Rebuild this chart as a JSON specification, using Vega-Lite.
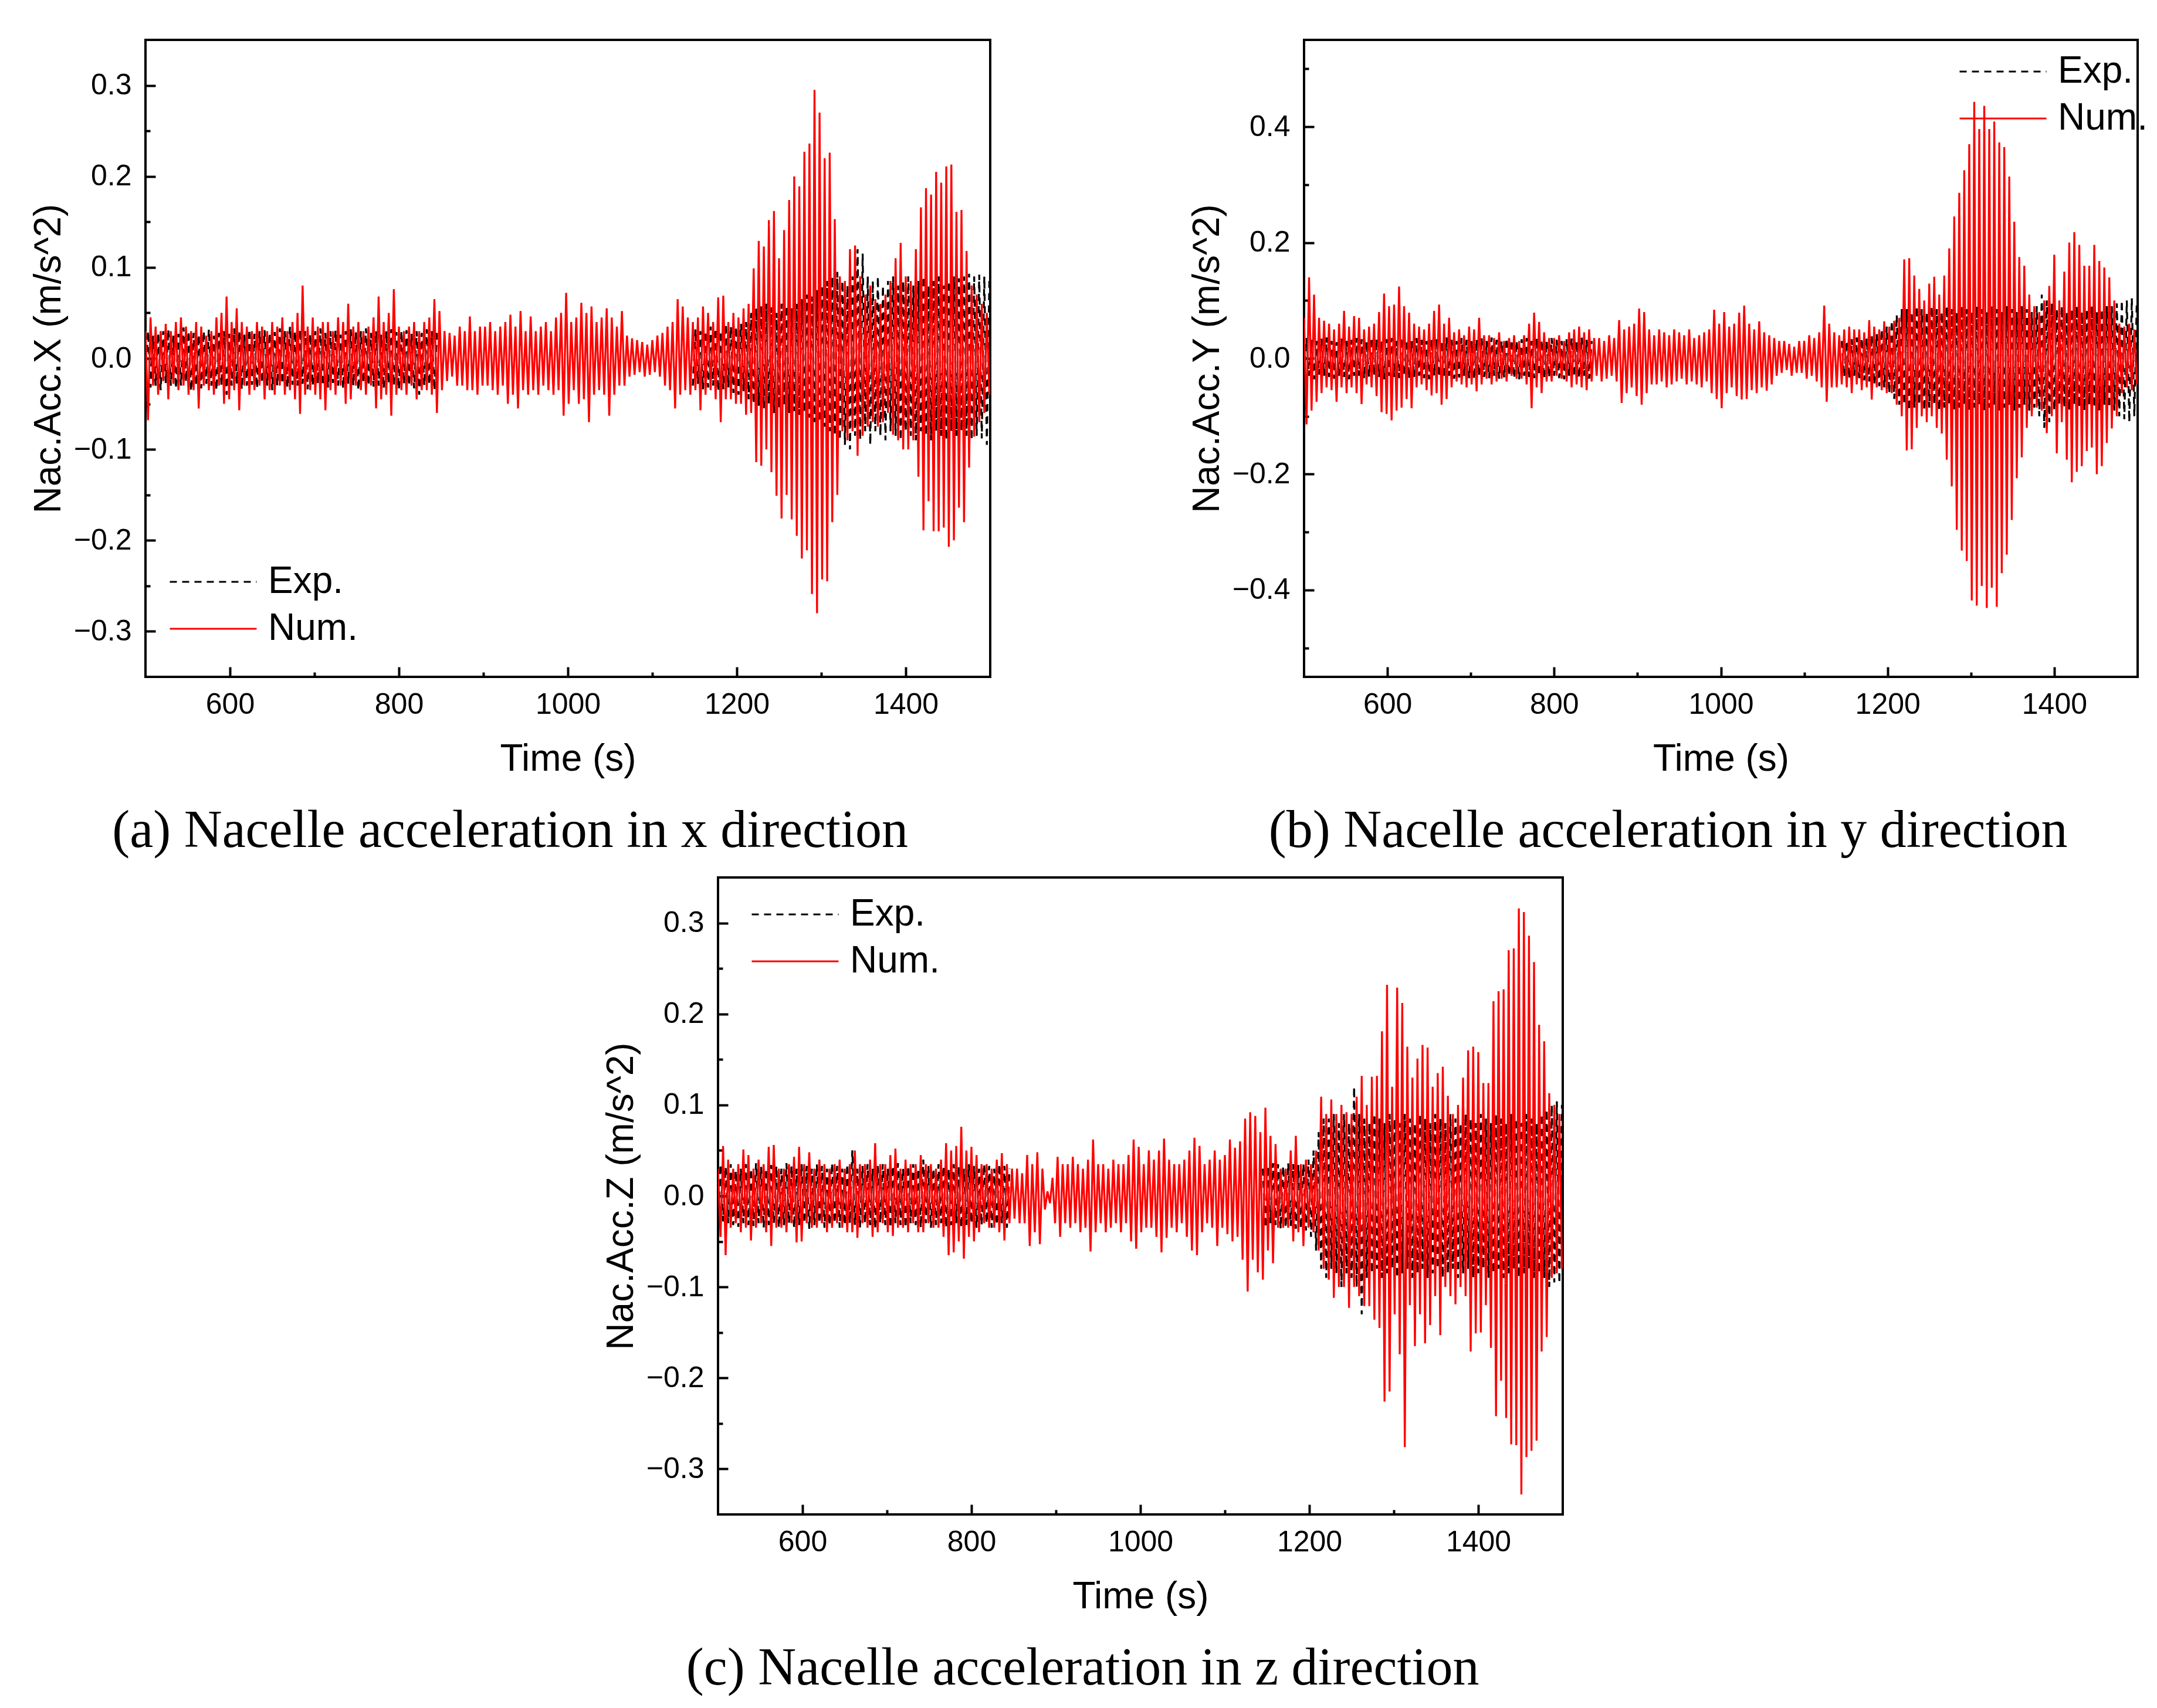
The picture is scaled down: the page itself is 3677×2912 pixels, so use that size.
{
  "$schema": "https://vega.github.io/schema/vega-lite/v6.json",
  "background": "white",
  "padding": {"left": 49, "top": 66, "right": 0, "bottom": 0},
  "config": {
    "view": {"stroke": "#000000", "strokeWidth": 4},
    "axis": {
      "domain": false,
      "grid": false,
      "labelFont": "Liberation Sans",
      "labelFontSize": 50,
      "labelColor": "#000000",
      "titleFont": "Liberation Sans",
      "titleFontSize": 64,
      "titleFontWeight": "normal",
      "titleColor": "#000000",
      "tickColor": "#000000",
      "tickWidth": 4,
      "labelOverlap": false,
      "labelFlush": false
    },
    "legend": {
      "title": null,
      "orient": "none",
      "symbolType": "stroke",
      "symbolSize": 21904,
      "symbolStrokeWidth": 3,
      "labelFont": "Liberation Sans",
      "labelFontSize": 64,
      "labelColor": "#000000",
      "labelOffset": 18,
      "labelLimit": 400,
      "clipHeight": 80,
      "rowPadding": 0,
      "padding": 0
    }
  },
  "datasets": {
    "ax": [
      {"t":500,"e":-0.02,"n":0.03},{"t":503,"e":0.03,"n":-0.068},{"t":506,"e":-0.032,"n":0.045},{"t":509,"e":0.025,"n":-0.03},{"t":512,"e":-0.03,"n":0.035},{"t":515,"e":0.028,"n":-0.04},{"t":518,"e":-0.035,"n":0.03},{"t":521,"e":0.03,"n":-0.025},{"t":524,"e":-0.027,"n":0.038},{"t":527,"e":0.032,"n":-0.045},
      {"t":530,"e":-0.03,"n":0.03},{"t":533,"e":0.025,"n":-0.028},{"t":536,"e":-0.033,"n":0.04},{"t":539,"e":0.027,"n":-0.035},{"t":542,"e":-0.03,"n":0.045},{"t":545,"e":0.034,"n":-0.03},{"t":548,"e":-0.026,"n":0.035},{"t":551,"e":0.03,"n":-0.04},{"t":554,"e":-0.036,"n":0.03},{"t":557,"e":0.028,"n":-0.035},
      {"t":560,"e":-0.03,"n":0.04},{"t":563,"e":0.026,"n":-0.055},{"t":566,"e":-0.033,"n":0.035},{"t":569,"e":0.03,"n":-0.03},{"t":572,"e":-0.028,"n":0.025},{"t":575,"e":0.032,"n":-0.035},{"t":578,"e":-0.03,"n":0.03},{"t":581,"e":0.025,"n":-0.04},{"t":584,"e":-0.035,"n":0.045},{"t":587,"e":0.028,"n":-0.03},
      {"t":590,"e":-0.03,"n":0.05},{"t":593,"e":0.03,"n":-0.05},{"t":596,"e":-0.04,"n":0.068},{"t":599,"e":0.027,"n":-0.045},{"t":602,"e":-0.03,"n":0.04},{"t":605,"e":0.033,"n":-0.035},{"t":608,"e":-0.028,"n":0.055},{"t":611,"e":0.03,"n":-0.057},{"t":614,"e":-0.034,"n":0.04},{"t":617,"e":0.026,"n":-0.03},
      {"t":620,"e":-0.03,"n":0.035},{"t":623,"e":0.032,"n":-0.04},{"t":626,"e":-0.029,"n":0.03},{"t":629,"e":0.027,"n":-0.035},{"t":632,"e":-0.033,"n":0.04},{"t":635,"e":0.03,"n":-0.03},{"t":638,"e":-0.027,"n":0.035},{"t":641,"e":0.031,"n":-0.045},{"t":644,"e":-0.03,"n":0.03},{"t":647,"e":0.028,"n":-0.035},
      {"t":650,"e":-0.035,"n":0.04},{"t":653,"e":0.029,"n":-0.04},{"t":656,"e":-0.03,"n":0.035},{"t":659,"e":0.033,"n":-0.03},{"t":662,"e":-0.028,"n":0.045},{"t":665,"e":0.03,"n":-0.04},{"t":668,"e":-0.032,"n":0.03},{"t":671,"e":0.035,"n":-0.035},{"t":674,"e":-0.029,"n":0.04},{"t":677,"e":0.03,"n":-0.045},
      {"t":680,"e":-0.03,"n":0.05},{"t":683,"e":0.032,"n":-0.061},{"t":686,"e":-0.028,"n":0.08},{"t":689,"e":0.03,"n":-0.04},{"t":692,"e":-0.034,"n":0.035},{"t":695,"e":0.027,"n":-0.035},{"t":698,"e":-0.03,"n":0.045},{"t":701,"e":0.03,"n":-0.04},{"t":704,"e":-0.028,"n":0.035},{"t":707,"e":0.033,"n":-0.045},
      {"t":710,"e":-0.03,"n":0.04},{"t":713,"e":0.028,"n":-0.057},{"t":716,"e":-0.032,"n":0.04},{"t":719,"e":0.03,"n":-0.035},{"t":722,"e":-0.027,"n":0.03},{"t":725,"e":0.031,"n":-0.04},{"t":728,"e":-0.03,"n":0.045},{"t":731,"e":0.026,"n":-0.03},{"t":734,"e":-0.033,"n":0.04},{"t":737,"e":0.03,"n":-0.05},
      {"t":740,"e":-0.028,"n":0.06},{"t":743,"e":0.032,"n":-0.045},{"t":746,"e":-0.03,"n":0.035},{"t":749,"e":0.029,"n":-0.03},{"t":752,"e":-0.035,"n":0.04},{"t":755,"e":0.03,"n":-0.035},{"t":758,"e":-0.027,"n":0.03},{"t":761,"e":0.033,"n":-0.04},{"t":764,"e":-0.03,"n":0.035},{"t":767,"e":0.028,"n":-0.03},
      {"t":770,"e":-0.031,"n":0.045},{"t":773,"e":0.03,"n":-0.055},{"t":776,"e":-0.03,"n":0.068},{"t":779,"e":0.026,"n":-0.045},{"t":782,"e":-0.033,"n":0.04},{"t":785,"e":0.03,"n":-0.04},{"t":788,"e":-0.028,"n":0.05},{"t":791,"e":0.032,"n":-0.063},{"t":794,"e":-0.03,"n":0.076},{"t":797,"e":0.029,"n":-0.04},
      {"t":800,"e":-0.034,"n":0.035},{"t":803,"e":0.03,"n":-0.035},{"t":806,"e":-0.028,"n":0.03},{"t":809,"e":0.031,"n":-0.04},{"t":812,"e":-0.03,"n":0.035},{"t":815,"e":0.027,"n":-0.03},{"t":818,"e":-0.033,"n":0.04},{"t":821,"e":0.03,"n":-0.045},{"t":824,"e":-0.04,"n":0.03},{"t":827,"e":0.028,"n":-0.035},
      {"t":830,"e":-0.03,"n":0.04},{"t":833,"e":0.032,"n":-0.035},{"t":836,"e":-0.029,"n":0.045},{"t":839,"e":0.03,"n":-0.04},{"t":842,"e":-0.035,"n":0.065},{"t":845,"e":0.028,"n":-0.06},{"t":848,"e":null,"n":0.052},{"t":851,"e":null,"n":-0.035},{"t":854,"e":null,"n":0.03},{"t":857,"e":null,"n":-0.025},
      {"t":860,"e":null,"n":0.028},{"t":863,"e":null,"n":-0.02},{"t":866,"e":null,"n":0.025},{"t":869,"e":null,"n":-0.03},{"t":872,"e":null,"n":0.035},{"t":875,"e":null,"n":-0.03},{"t":878,"e":null,"n":0.03},{"t":881,"e":null,"n":-0.035},{"t":884,"e":null,"n":0.046},{"t":887,"e":null,"n":-0.035},
      {"t":890,"e":null,"n":0.03},{"t":893,"e":null,"n":-0.04},{"t":896,"e":null,"n":0.035},{"t":899,"e":null,"n":-0.03},{"t":902,"e":null,"n":0.035},{"t":905,"e":null,"n":-0.03},{"t":908,"e":null,"n":0.04},{"t":911,"e":null,"n":-0.035},{"t":914,"e":null,"n":0.03},{"t":917,"e":null,"n":-0.04},
      {"t":920,"e":null,"n":0.035},{"t":923,"e":null,"n":-0.03},{"t":926,"e":null,"n":0.04},{"t":929,"e":null,"n":-0.05},{"t":932,"e":null,"n":0.048},{"t":935,"e":null,"n":-0.04},{"t":938,"e":null,"n":0.035},{"t":941,"e":null,"n":-0.055},{"t":944,"e":null,"n":0.052},{"t":947,"e":null,"n":-0.035},
      {"t":950,"e":null,"n":0.03},{"t":953,"e":null,"n":-0.04},{"t":956,"e":null,"n":0.046},{"t":959,"e":null,"n":-0.035},{"t":962,"e":null,"n":0.03},{"t":965,"e":null,"n":-0.04},{"t":968,"e":null,"n":0.035},{"t":971,"e":null,"n":-0.03},{"t":974,"e":null,"n":0.04},{"t":977,"e":null,"n":-0.035},
      {"t":980,"e":null,"n":0.03},{"t":983,"e":null,"n":-0.04},{"t":986,"e":null,"n":0.045},{"t":989,"e":null,"n":-0.035},{"t":992,"e":null,"n":0.05},{"t":995,"e":null,"n":-0.063},{"t":998,"e":null,"n":0.072},{"t":1001,"e":null,"n":-0.05},{"t":1004,"e":null,"n":0.04},{"t":1007,"e":null,"n":-0.035},
      {"t":1010,"e":null,"n":0.045},{"t":1013,"e":null,"n":-0.05},{"t":1016,"e":null,"n":0.061},{"t":1019,"e":null,"n":-0.045},{"t":1022,"e":null,"n":0.05},{"t":1025,"e":null,"n":-0.07},{"t":1028,"e":null,"n":0.057},{"t":1031,"e":null,"n":-0.04},{"t":1034,"e":null,"n":0.04},{"t":1037,"e":null,"n":-0.035},
      {"t":1040,"e":null,"n":0.045},{"t":1043,"e":null,"n":-0.04},{"t":1046,"e":null,"n":0.055},{"t":1049,"e":null,"n":-0.063},{"t":1052,"e":null,"n":0.045},{"t":1055,"e":null,"n":-0.04},{"t":1058,"e":null,"n":0.035},{"t":1061,"e":null,"n":-0.03},{"t":1064,"e":null,"n":0.052},{"t":1067,"e":null,"n":-0.03},
      {"t":1070,"e":null,"n":0.025},{"t":1073,"e":null,"n":-0.02},{"t":1076,"e":null,"n":0.022},{"t":1079,"e":null,"n":-0.018},{"t":1082,"e":null,"n":0.02},{"t":1085,"e":null,"n":-0.015},{"t":1088,"e":null,"n":0.018},{"t":1091,"e":null,"n":-0.02},{"t":1094,"e":null,"n":0.015},{"t":1097,"e":null,"n":-0.018},
      {"t":1100,"e":null,"n":0.02},{"t":1103,"e":null,"n":-0.015},{"t":1106,"e":null,"n":0.025},{"t":1109,"e":null,"n":-0.02},{"t":1112,"e":null,"n":0.028},{"t":1115,"e":null,"n":-0.03},{"t":1118,"e":null,"n":0.035},{"t":1121,"e":null,"n":-0.035},{"t":1124,"e":null,"n":0.04},{"t":1127,"e":null,"n":-0.055},
      {"t":1130,"e":null,"n":0.065},{"t":1133,"e":null,"n":-0.04},{"t":1136,"e":null,"n":0.057},{"t":1139,"e":null,"n":-0.035},{"t":1142,"e":null,"n":0.045},{"t":1145,"e":null,"n":-0.04},{"t":1148,"e":-0.03,"n":0.04},{"t":1151,"e":0.032,"n":-0.035},{"t":1154,"e":-0.028,"n":0.045},{"t":1157,"e":0.03,"n":-0.057},
      {"t":1160,"e":-0.034,"n":0.057},{"t":1163,"e":0.03,"n":-0.04},{"t":1166,"e":-0.032,"n":0.05},{"t":1169,"e":0.035,"n":-0.035},{"t":1172,"e":-0.03,"n":0.04},{"t":1175,"e":0.033,"n":-0.045},{"t":1178,"e":-0.036,"n":0.067},{"t":1181,"e":0.03,"n":-0.07},{"t":1184,"e":-0.034,"n":0.069},{"t":1187,"e":0.038,"n":-0.045},
      {"t":1190,"e":-0.032,"n":0.04},{"t":1193,"e":0.035,"n":-0.045},{"t":1196,"e":-0.038,"n":0.05},{"t":1199,"e":0.035,"n":-0.05},{"t":1202,"e":-0.04,"n":0.045},{"t":1205,"e":0.038,"n":-0.05},{"t":1208,"e":-0.036,"n":0.055},{"t":1211,"e":0.04,"n":-0.062},{"t":1214,"e":-0.045,"n":0.06},{"t":1217,"e":0.05,"n":-0.06},
      {"t":1220,"e":-0.05,"n":0.099},{"t":1223,"e":0.055,"n":-0.114},{"t":1226,"e":-0.052,"n":0.129},{"t":1229,"e":0.058,"n":-0.118},{"t":1232,"e":-0.055,"n":0.123},{"t":1235,"e":0.06,"n":-0.1},{"t":1238,"e":-0.05,"n":0.152},{"t":1241,"e":0.056,"n":-0.125},{"t":1244,"e":-0.06,"n":0.162},{"t":1247,"e":0.05,"n":-0.151},
      {"t":1250,"e":-0.055,"n":0.11},{"t":1253,"e":0.06,"n":-0.176},{"t":1256,"e":-0.052,"n":0.141},{"t":1259,"e":0.058,"n":-0.15},{"t":1262,"e":-0.06,"n":0.174},{"t":1265,"e":0.055,"n":-0.177},{"t":1268,"e":-0.058,"n":0.2},{"t":1271,"e":0.06,"n":-0.195},{"t":1274,"e":-0.062,"n":0.189},{"t":1277,"e":0.065,"n":-0.22},
      {"t":1280,"e":-0.06,"n":0.227},{"t":1283,"e":0.07,"n":-0.211},{"t":1286,"e":-0.065,"n":0.236},{"t":1289,"e":0.068,"n":-0.259},{"t":1292,"e":-0.07,"n":0.295},{"t":1295,"e":0.075,"n":-0.28},{"t":1298,"e":-0.07,"n":0.27},{"t":1301,"e":0.08,"n":-0.243},{"t":1304,"e":-0.075,"n":0.22},{"t":1307,"e":0.085,"n":-0.245},
      {"t":1310,"e":-0.08,"n":0.226},{"t":1313,"e":0.09,"n":-0.18},{"t":1316,"e":-0.085,"n":0.153},{"t":1319,"e":0.095,"n":-0.15},{"t":1322,"e":-0.09,"n":0.09},{"t":1325,"e":0.085,"n":-0.08},{"t":1328,"e":-0.095,"n":0.085},{"t":1331,"e":0.08,"n":-0.09},{"t":1334,"e":-0.1,"n":0.12},{"t":1337,"e":0.09,"n":-0.08},
      {"t":1340,"e":-0.085,"n":0.124},{"t":1343,"e":0.12,"n":-0.107},{"t":1346,"e":-0.09,"n":0.09},{"t":1349,"e":0.115,"n":-0.085},{"t":1352,"e":-0.08,"n":0.07},{"t":1355,"e":0.09,"n":-0.075},{"t":1358,"e":-0.095,"n":0.08},{"t":1361,"e":0.085,"n":-0.07},{"t":1364,"e":-0.08,"n":0.065},{"t":1367,"e":0.09,"n":-0.075},
      {"t":1370,"e":-0.085,"n":0.06},{"t":1373,"e":0.08,"n":-0.07},{"t":1376,"e":-0.09,"n":0.07},{"t":1379,"e":0.085,"n":-0.06},{"t":1382,"e":-0.08,"n":0.085},{"t":1385,"e":0.09,"n":-0.084},{"t":1388,"e":-0.085,"n":0.11},{"t":1391,"e":0.08,"n":-0.09},{"t":1394,"e":-0.09,"n":0.127},{"t":1397,"e":0.085,"n":-0.1},
      {"t":1400,"e":-0.08,"n":0.09},{"t":1403,"e":0.09,"n":-0.1},{"t":1406,"e":-0.085,"n":0.085},{"t":1409,"e":0.08,"n":-0.09},{"t":1412,"e":-0.09,"n":0.12},{"t":1415,"e":0.085,"n":-0.13},{"t":1418,"e":-0.08,"n":0.166},{"t":1421,"e":0.09,"n":-0.189},{"t":1424,"e":-0.085,"n":0.187},{"t":1427,"e":0.08,"n":-0.157},
      {"t":1430,"e":-0.09,"n":0.18},{"t":1433,"e":0.085,"n":-0.19},{"t":1436,"e":-0.08,"n":0.205},{"t":1439,"e":0.09,"n":-0.19},{"t":1442,"e":-0.085,"n":0.193},{"t":1445,"e":0.08,"n":-0.186},{"t":1448,"e":-0.09,"n":0.211},{"t":1451,"e":0.085,"n":-0.207},{"t":1454,"e":-0.08,"n":0.213},{"t":1457,"e":0.09,"n":-0.2},
      {"t":1460,"e":-0.085,"n":0.161},{"t":1463,"e":0.088,"n":-0.164},{"t":1466,"e":-0.08,"n":0.163},{"t":1469,"e":0.09,"n":-0.18},{"t":1472,"e":-0.085,"n":0.118},{"t":1475,"e":0.093,"n":-0.12},{"t":1478,"e":-0.09,"n":0.08},{"t":1481,"e":0.09,"n":-0.086},{"t":1484,"e":-0.085,"n":0.07},{"t":1487,"e":0.092,"n":-0.07},
      {"t":1490,"e":-0.088,"n":0.06},{"t":1493,"e":0.09,"n":-0.06},{"t":1496,"e":-0.095,"n":0.05},{"t":1499,"e":0.085,"n":-0.04}
    ],
    "ay": [
      {"t":500,"e":-0.03,"n":0.07},{"t":503,"e":0.035,"n":-0.114},{"t":506,"e":-0.03,"n":0.14},{"t":509,"e":0.032,"n":-0.09},{"t":512,"e":-0.036,"n":0.11},{"t":515,"e":0.03,"n":-0.075},{"t":518,"e":-0.028,"n":0.07},{"t":521,"e":0.034,"n":-0.06},{"t":524,"e":-0.03,"n":0.065},{"t":527,"e":0.036,"n":-0.05},
      {"t":530,"e":-0.032,"n":0.06},{"t":533,"e":0.03,"n":-0.055},{"t":536,"e":-0.035,"n":0.05},{"t":539,"e":0.028,"n":-0.075},{"t":542,"e":-0.03,"n":0.06},{"t":545,"e":0.034,"n":-0.05},{"t":548,"e":-0.032,"n":0.082},{"t":551,"e":0.03,"n":-0.06},{"t":554,"e":-0.036,"n":0.055},{"t":557,"e":0.032,"n":-0.05},
      {"t":560,"e":-0.03,"n":0.073},{"t":563,"e":0.035,"n":-0.06},{"t":566,"e":-0.03,"n":0.07},{"t":569,"e":0.033,"n":-0.079},{"t":572,"e":-0.035,"n":0.05},{"t":575,"e":0.03,"n":-0.045},{"t":578,"e":-0.032,"n":0.055},{"t":581,"e":0.036,"n":-0.05},{"t":584,"e":-0.03,"n":0.06},{"t":587,"e":0.034,"n":-0.065},
      {"t":590,"e":-0.032,"n":0.08},{"t":593,"e":0.03,"n":-0.093},{"t":596,"e":-0.036,"n":0.112},{"t":599,"e":0.033,"n":-0.096},{"t":602,"e":-0.03,"n":0.09},{"t":605,"e":0.035,"n":-0.107},{"t":608,"e":-0.032,"n":0.093},{"t":611,"e":0.03,"n":-0.09},{"t":614,"e":-0.034,"n":0.124},{"t":617,"e":0.036,"n":-0.085},
      {"t":620,"e":-0.03,"n":0.09},{"t":623,"e":0.032,"n":-0.07},{"t":626,"e":-0.035,"n":0.079},{"t":629,"e":0.03,"n":-0.086},{"t":632,"e":-0.033,"n":0.06},{"t":635,"e":0.035,"n":-0.05},{"t":638,"e":-0.03,"n":0.055},{"t":641,"e":0.032,"n":-0.045},{"t":644,"e":-0.034,"n":0.05},{"t":647,"e":0.03,"n":-0.055},
      {"t":650,"e":-0.036,"n":0.06},{"t":653,"e":0.033,"n":-0.064},{"t":656,"e":-0.03,"n":0.082},{"t":659,"e":0.035,"n":-0.06},{"t":662,"e":-0.032,"n":0.093},{"t":665,"e":0.03,"n":-0.08},{"t":668,"e":-0.034,"n":0.06},{"t":671,"e":0.036,"n":-0.07},{"t":674,"e":-0.03,"n":0.07},{"t":677,"e":0.032,"n":-0.05},
      {"t":680,"e":-0.035,"n":0.045},{"t":683,"e":0.03,"n":-0.04},{"t":686,"e":-0.033,"n":0.05},{"t":689,"e":0.035,"n":-0.045},{"t":692,"e":-0.03,"n":0.04},{"t":695,"e":0.032,"n":-0.05},{"t":698,"e":-0.034,"n":0.055},{"t":701,"e":0.03,"n":-0.045},{"t":704,"e":-0.036,"n":0.05},{"t":707,"e":0.033,"n":-0.057},
      {"t":710,"e":-0.03,"n":0.07},{"t":713,"e":0.035,"n":-0.045},{"t":716,"e":-0.032,"n":0.04},{"t":719,"e":0.03,"n":-0.035},{"t":722,"e":-0.034,"n":0.04},{"t":725,"e":0.036,"n":-0.045},{"t":728,"e":-0.03,"n":0.035},{"t":731,"e":0.032,"n":-0.04},{"t":734,"e":-0.035,"n":0.045},{"t":737,"e":0.03,"n":-0.035},
      {"t":740,"e":-0.033,"n":0.03},{"t":743,"e":0.035,"n":-0.04},{"t":746,"e":-0.03,"n":0.035},{"t":749,"e":0.032,"n":-0.03},{"t":752,"e":-0.034,"n":0.04},{"t":755,"e":0.03,"n":-0.035},{"t":758,"e":-0.036,"n":0.03},{"t":761,"e":0.033,"n":-0.035},{"t":764,"e":-0.03,"n":0.04},{"t":767,"e":0.035,"n":-0.045},
      {"t":770,"e":-0.032,"n":0.06},{"t":773,"e":0.03,"n":-0.086},{"t":776,"e":-0.034,"n":0.079},{"t":779,"e":0.036,"n":-0.05},{"t":782,"e":-0.03,"n":0.063},{"t":785,"e":0.032,"n":-0.06},{"t":788,"e":-0.035,"n":0.045},{"t":791,"e":0.03,"n":-0.04},{"t":794,"e":-0.033,"n":0.035},{"t":797,"e":0.035,"n":-0.04},
      {"t":800,"e":-0.03,"n":0.035},{"t":803,"e":0.032,"n":-0.03},{"t":806,"e":-0.034,"n":0.04},{"t":809,"e":0.03,"n":-0.035},{"t":812,"e":-0.036,"n":0.03},{"t":815,"e":0.033,"n":-0.04},{"t":818,"e":-0.03,"n":0.045},{"t":821,"e":0.035,"n":-0.05},{"t":824,"e":-0.032,"n":0.05},{"t":827,"e":0.03,"n":-0.045},
      {"t":830,"e":-0.034,"n":0.055},{"t":833,"e":0.036,"n":-0.05},{"t":836,"e":-0.03,"n":0.045},{"t":839,"e":0.032,"n":-0.055},{"t":842,"e":-0.035,"n":0.05},{"t":845,"e":0.03,"n":-0.04},{"t":848,"e":null,"n":0.035},{"t":851,"e":null,"n":-0.03},{"t":854,"e":null,"n":0.035},{"t":857,"e":null,"n":-0.04},
      {"t":860,"e":null,"n":0.03},{"t":863,"e":null,"n":-0.035},{"t":866,"e":null,"n":0.04},{"t":869,"e":null,"n":-0.03},{"t":872,"e":null,"n":0.035},{"t":875,"e":null,"n":-0.04},{"t":878,"e":null,"n":0.066},{"t":881,"e":null,"n":-0.077},{"t":884,"e":null,"n":0.05},{"t":887,"e":null,"n":-0.06},
      {"t":890,"e":null,"n":0.055},{"t":893,"e":null,"n":-0.05},{"t":896,"e":null,"n":0.06},{"t":899,"e":null,"n":-0.065},{"t":902,"e":null,"n":0.086},{"t":905,"e":null,"n":-0.08},{"t":908,"e":null,"n":0.08},{"t":911,"e":null,"n":-0.06},{"t":914,"e":null,"n":0.05},{"t":917,"e":null,"n":-0.045},
      {"t":920,"e":null,"n":0.04},{"t":923,"e":null,"n":-0.045},{"t":926,"e":null,"n":0.05},{"t":929,"e":null,"n":-0.04},{"t":932,"e":null,"n":0.045},{"t":935,"e":null,"n":-0.05},{"t":938,"e":null,"n":0.04},{"t":941,"e":null,"n":-0.045},{"t":944,"e":null,"n":0.05},{"t":947,"e":null,"n":-0.04},
      {"t":950,"e":null,"n":0.045},{"t":953,"e":null,"n":-0.035},{"t":956,"e":null,"n":0.04},{"t":959,"e":null,"n":-0.045},{"t":962,"e":null,"n":0.05},{"t":965,"e":null,"n":-0.04},{"t":968,"e":null,"n":0.035},{"t":971,"e":null,"n":-0.045},{"t":974,"e":null,"n":0.04},{"t":977,"e":null,"n":-0.05},
      {"t":980,"e":null,"n":0.045},{"t":983,"e":null,"n":-0.04},{"t":986,"e":null,"n":0.05},{"t":989,"e":null,"n":-0.06},{"t":992,"e":null,"n":0.084},{"t":995,"e":null,"n":-0.07},{"t":998,"e":null,"n":0.06},{"t":1001,"e":null,"n":-0.086},{"t":1004,"e":null,"n":0.08},{"t":1007,"e":null,"n":-0.06},
      {"t":1010,"e":null,"n":0.055},{"t":1013,"e":null,"n":-0.05},{"t":1016,"e":null,"n":0.06},{"t":1019,"e":null,"n":-0.065},{"t":1022,"e":null,"n":0.079},{"t":1025,"e":null,"n":-0.071},{"t":1028,"e":null,"n":0.091},{"t":1031,"e":null,"n":-0.07},{"t":1034,"e":null,"n":0.06},{"t":1037,"e":null,"n":-0.055},
      {"t":1040,"e":null,"n":0.05},{"t":1043,"e":null,"n":-0.06},{"t":1046,"e":null,"n":0.064},{"t":1049,"e":null,"n":-0.05},{"t":1052,"e":null,"n":0.045},{"t":1055,"e":null,"n":-0.056},{"t":1058,"e":null,"n":0.04},{"t":1061,"e":null,"n":-0.045},{"t":1064,"e":null,"n":0.035},{"t":1067,"e":null,"n":-0.03},
      {"t":1070,"e":null,"n":0.03},{"t":1073,"e":null,"n":-0.025},{"t":1076,"e":null,"n":0.03},{"t":1079,"e":null,"n":-0.02},{"t":1082,"e":null,"n":0.025},{"t":1085,"e":null,"n":-0.03},{"t":1088,"e":null,"n":0.02},{"t":1091,"e":null,"n":-0.025},{"t":1094,"e":null,"n":0.03},{"t":1097,"e":null,"n":-0.025},
      {"t":1100,"e":null,"n":0.03},{"t":1103,"e":null,"n":-0.035},{"t":1106,"e":null,"n":0.04},{"t":1109,"e":null,"n":-0.03},{"t":1112,"e":null,"n":0.035},{"t":1115,"e":null,"n":-0.04},{"t":1118,"e":null,"n":0.045},{"t":1121,"e":null,"n":-0.05},{"t":1124,"e":null,"n":0.091},{"t":1127,"e":null,"n":-0.075},
      {"t":1130,"e":null,"n":0.06},{"t":1133,"e":null,"n":-0.05},{"t":1136,"e":null,"n":0.045},{"t":1139,"e":null,"n":-0.05},{"t":1142,"e":null,"n":0.04},{"t":1145,"e":0.03,"n":-0.045},{"t":1148,"e":-0.032,"n":0.05},{"t":1151,"e":0.03,"n":-0.05},{"t":1154,"e":-0.035,"n":0.055},{"t":1157,"e":0.033,"n":-0.06},
      {"t":1160,"e":-0.03,"n":0.05},{"t":1163,"e":0.036,"n":-0.045},{"t":1166,"e":-0.034,"n":0.05},{"t":1169,"e":0.035,"n":-0.055},{"t":1172,"e":-0.038,"n":0.045},{"t":1175,"e":0.035,"n":-0.05},{"t":1178,"e":-0.04,"n":0.066},{"t":1181,"e":0.04,"n":-0.071},{"t":1184,"e":-0.045,"n":0.055},{"t":1187,"e":0.042,"n":-0.05},
      {"t":1190,"e":-0.048,"n":0.05},{"t":1193,"e":0.05,"n":-0.055},{"t":1196,"e":-0.05,"n":0.064},{"t":1199,"e":0.055,"n":-0.06},{"t":1202,"e":-0.06,"n":0.055},{"t":1205,"e":0.065,"n":-0.06},{"t":1208,"e":-0.07,"n":0.065},{"t":1211,"e":0.075,"n":-0.08},{"t":1214,"e":-0.08,"n":0.07},{"t":1217,"e":0.085,"n":-0.1},
      {"t":1220,"e":-0.08,"n":0.171},{"t":1223,"e":0.085,"n":-0.159},{"t":1226,"e":-0.09,"n":0.173},{"t":1229,"e":0.08,"n":-0.157},{"t":1232,"e":-0.085,"n":0.143},{"t":1235,"e":0.09,"n":-0.12},{"t":1238,"e":-0.08,"n":0.12},{"t":1241,"e":0.085,"n":-0.1},{"t":1244,"e":-0.09,"n":0.1},{"t":1247,"e":0.08,"n":-0.11},
      {"t":1250,"e":-0.085,"n":0.129},{"t":1253,"e":0.09,"n":-0.1},{"t":1256,"e":-0.08,"n":0.141},{"t":1259,"e":0.085,"n":-0.12},{"t":1262,"e":-0.09,"n":0.11},{"t":1265,"e":0.08,"n":-0.13},{"t":1268,"e":-0.085,"n":0.143},{"t":1271,"e":0.09,"n":-0.175},{"t":1274,"e":-0.08,"n":0.19},{"t":1277,"e":0.085,"n":-0.221},
      {"t":1280,"e":-0.09,"n":0.245},{"t":1283,"e":0.08,"n":-0.296},{"t":1286,"e":-0.085,"n":0.286},{"t":1289,"e":0.09,"n":-0.332},{"t":1292,"e":-0.08,"n":0.325},{"t":1295,"e":0.085,"n":-0.35},{"t":1298,"e":-0.09,"n":0.37},{"t":1301,"e":0.08,"n":-0.418},{"t":1304,"e":-0.085,"n":0.443},{"t":1307,"e":0.09,"n":-0.427},
      {"t":1310,"e":-0.08,"n":0.396},{"t":1313,"e":0.085,"n":-0.393},{"t":1316,"e":-0.09,"n":0.436},{"t":1319,"e":0.08,"n":-0.431},{"t":1322,"e":-0.085,"n":0.396},{"t":1325,"e":0.09,"n":-0.396},{"t":1328,"e":-0.08,"n":0.409},{"t":1331,"e":0.085,"n":-0.429},{"t":1334,"e":-0.09,"n":0.373},{"t":1337,"e":0.08,"n":-0.371},
      {"t":1340,"e":-0.085,"n":0.365},{"t":1343,"e":0.09,"n":-0.339},{"t":1346,"e":-0.08,"n":0.314},{"t":1349,"e":0.085,"n":-0.279},{"t":1352,"e":-0.09,"n":0.236},{"t":1355,"e":0.08,"n":-0.207},{"t":1358,"e":-0.085,"n":0.175},{"t":1361,"e":0.09,"n":-0.171},{"t":1364,"e":-0.08,"n":0.16},{"t":1367,"e":0.085,"n":-0.12},
      {"t":1370,"e":-0.09,"n":0.11},{"t":1373,"e":0.08,"n":-0.1},{"t":1376,"e":-0.085,"n":0.09},{"t":1379,"e":0.09,"n":-0.085},{"t":1382,"e":-0.1,"n":0.08},{"t":1385,"e":0.11,"n":-0.09},{"t":1388,"e":-0.12,"n":0.1},{"t":1391,"e":0.1,"n":-0.129},{"t":1394,"e":-0.11,"n":0.125},{"t":1397,"e":0.095,"n":-0.1},
      {"t":1400,"e":-0.09,"n":0.179},{"t":1403,"e":0.085,"n":-0.164},{"t":1406,"e":-0.08,"n":0.1},{"t":1409,"e":0.09,"n":-0.11},{"t":1412,"e":-0.085,"n":0.15},{"t":1415,"e":0.08,"n":-0.175},{"t":1418,"e":-0.09,"n":0.2},{"t":1421,"e":0.085,"n":-0.214},{"t":1424,"e":-0.08,"n":0.218},{"t":1427,"e":0.09,"n":-0.196},
      {"t":1430,"e":-0.085,"n":0.196},{"t":1433,"e":0.08,"n":-0.186},{"t":1436,"e":-0.09,"n":0.16},{"t":1439,"e":0.085,"n":-0.16},{"t":1442,"e":-0.08,"n":0.16},{"t":1445,"e":0.09,"n":-0.154},{"t":1448,"e":-0.085,"n":0.196},{"t":1451,"e":0.08,"n":-0.2},{"t":1454,"e":-0.09,"n":0.168},{"t":1457,"e":0.085,"n":-0.186},
      {"t":1460,"e":-0.08,"n":0.157},{"t":1463,"e":0.09,"n":-0.146},{"t":1466,"e":-0.085,"n":0.14},{"t":1469,"e":0.09,"n":-0.121},{"t":1472,"e":-0.09,"n":0.1},{"t":1475,"e":0.095,"n":-0.1},{"t":1478,"e":-0.1,"n":0.06},{"t":1481,"e":0.1,"n":-0.06},{"t":1484,"e":-0.105,"n":0.055},{"t":1487,"e":0.1,"n":-0.05},
      {"t":1490,"e":-0.11,"n":0.06},{"t":1493,"e":0.104,"n":-0.055},{"t":1496,"e":-0.1,"n":0.05},{"t":1499,"e":0.1,"n":-0.045}
    ],
    "az": [
      {"t":500,"e":-0.03,"n":0.03},{"t":503,"e":0.035,"n":-0.045},{"t":506,"e":-0.028,"n":0.055},{"t":509,"e":0.032,"n":-0.065},{"t":512,"e":-0.03,"n":0.04},{"t":515,"e":0.035,"n":-0.035},{"t":518,"e":-0.032,"n":0.03},{"t":521,"e":0.028,"n":-0.03},{"t":524,"e":-0.034,"n":0.035},{"t":527,"e":0.03,"n":-0.04},
      {"t":530,"e":-0.03,"n":0.051},{"t":533,"e":0.035,"n":-0.035},{"t":536,"e":-0.032,"n":0.045},{"t":539,"e":0.03,"n":-0.049},{"t":542,"e":-0.033,"n":0.03},{"t":545,"e":0.036,"n":-0.035},{"t":548,"e":-0.03,"n":0.04},{"t":551,"e":0.032,"n":-0.03},{"t":554,"e":-0.035,"n":0.035},{"t":557,"e":0.03,"n":-0.04},
      {"t":560,"e":-0.032,"n":0.054},{"t":563,"e":0.034,"n":-0.055},{"t":566,"e":-0.03,"n":0.056},{"t":569,"e":0.033,"n":-0.035},{"t":572,"e":-0.035,"n":0.03},{"t":575,"e":0.03,"n":-0.035},{"t":578,"e":-0.032,"n":0.03},{"t":581,"e":0.036,"n":-0.04},{"t":584,"e":-0.03,"n":0.035},{"t":587,"e":0.033,"n":-0.03},
      {"t":590,"e":-0.035,"n":0.043},{"t":593,"e":0.03,"n":-0.051},{"t":596,"e":-0.032,"n":0.054},{"t":599,"e":0.035,"n":-0.05},{"t":602,"e":-0.03,"n":0.035},{"t":605,"e":0.033,"n":-0.03},{"t":608,"e":-0.036,"n":0.048},{"t":611,"e":0.03,"n":-0.035},{"t":614,"e":-0.032,"n":0.03},{"t":617,"e":0.035,"n":-0.035},
      {"t":620,"e":-0.03,"n":0.04},{"t":623,"e":0.033,"n":-0.03},{"t":626,"e":-0.035,"n":0.035},{"t":629,"e":0.03,"n":-0.04},{"t":632,"e":-0.032,"n":0.03},{"t":635,"e":0.036,"n":-0.035},{"t":638,"e":-0.03,"n":0.035},{"t":641,"e":0.033,"n":-0.03},{"t":644,"e":-0.035,"n":0.04},{"t":647,"e":0.03,"n":-0.035},
      {"t":650,"e":-0.032,"n":0.03},{"t":653,"e":0.035,"n":-0.04},{"t":656,"e":-0.03,"n":0.035},{"t":659,"e":0.05,"n":-0.04},{"t":662,"e":-0.032,"n":0.05},{"t":665,"e":0.03,"n":-0.046},{"t":668,"e":-0.035,"n":0.035},{"t":671,"e":0.033,"n":-0.03},{"t":674,"e":-0.03,"n":0.035},{"t":677,"e":0.035,"n":-0.035},
      {"t":680,"e":-0.032,"n":0.04},{"t":683,"e":0.03,"n":-0.045},{"t":686,"e":-0.036,"n":0.058},{"t":689,"e":0.033,"n":-0.04},{"t":692,"e":-0.03,"n":0.035},{"t":695,"e":0.035,"n":-0.03},{"t":698,"e":-0.032,"n":0.035},{"t":701,"e":0.03,"n":-0.04},{"t":704,"e":-0.035,"n":0.045},{"t":707,"e":0.033,"n":-0.044},
      {"t":710,"e":-0.03,"n":0.052},{"t":713,"e":0.036,"n":-0.035},{"t":716,"e":-0.032,"n":0.03},{"t":719,"e":0.03,"n":-0.035},{"t":722,"e":-0.035,"n":0.04},{"t":725,"e":0.033,"n":-0.04},{"t":728,"e":-0.03,"n":0.035},{"t":731,"e":0.035,"n":-0.03},{"t":734,"e":-0.032,"n":0.035},{"t":737,"e":0.03,"n":-0.04},
      {"t":740,"e":-0.035,"n":0.045},{"t":743,"e":0.04,"n":-0.04},{"t":746,"e":-0.03,"n":0.035},{"t":749,"e":0.033,"n":-0.03},{"t":752,"e":-0.035,"n":0.035},{"t":755,"e":0.03,"n":-0.035},{"t":758,"e":-0.032,"n":0.03},{"t":761,"e":0.035,"n":-0.035},{"t":764,"e":-0.03,"n":0.04},{"t":767,"e":0.033,"n":-0.045},
      {"t":770,"e":-0.035,"n":0.058},{"t":773,"e":0.03,"n":-0.065},{"t":776,"e":-0.032,"n":0.05},{"t":779,"e":0.035,"n":-0.062},{"t":782,"e":-0.03,"n":0.055},{"t":785,"e":0.033,"n":-0.05},{"t":788,"e":-0.035,"n":0.076},{"t":791,"e":0.03,"n":-0.069},{"t":794,"e":-0.032,"n":0.05},{"t":797,"e":0.035,"n":-0.045},
      {"t":800,"e":-0.03,"n":0.054},{"t":803,"e":0.033,"n":-0.05},{"t":806,"e":-0.035,"n":0.045},{"t":809,"e":0.03,"n":-0.04},{"t":812,"e":-0.032,"n":0.035},{"t":815,"e":0.035,"n":-0.03},{"t":818,"e":-0.03,"n":0.035},{"t":821,"e":0.033,"n":-0.035},{"t":824,"e":-0.035,"n":0.03},{"t":827,"e":0.03,"n":-0.035},
      {"t":830,"e":-0.032,"n":0.04},{"t":833,"e":0.035,"n":-0.04},{"t":836,"e":-0.03,"n":0.047},{"t":839,"e":0.033,"n":-0.049},{"t":842,"e":-0.035,"n":0.035},{"t":845,"e":0.03,"n":-0.03},{"t":848,"e":null,"n":0.03},{"t":851,"e":null,"n":-0.025},{"t":854,"e":null,"n":0.03},{"t":857,"e":null,"n":-0.03},
      {"t":860,"e":null,"n":0.025},{"t":863,"e":null,"n":-0.03},{"t":866,"e":null,"n":0.045},{"t":869,"e":null,"n":-0.055},{"t":872,"e":null,"n":0.035},{"t":875,"e":null,"n":-0.04},{"t":878,"e":null,"n":0.048},{"t":881,"e":null,"n":-0.053},{"t":884,"e":null,"n":0.03},{"t":887,"e":null,"n":-0.015},
      {"t":890,"e":null,"n":0.005},{"t":893,"e":null,"n":-0.008},{"t":896,"e":null,"n":0.02},{"t":899,"e":null,"n":-0.03},{"t":902,"e":null,"n":0.043},{"t":905,"e":null,"n":-0.045},{"t":908,"e":null,"n":0.035},{"t":911,"e":null,"n":-0.03},{"t":914,"e":null,"n":0.035},{"t":917,"e":null,"n":-0.035},
      {"t":920,"e":null,"n":0.043},{"t":923,"e":null,"n":-0.03},{"t":926,"e":null,"n":0.035},{"t":929,"e":null,"n":-0.04},{"t":932,"e":null,"n":0.03},{"t":935,"e":null,"n":-0.035},{"t":938,"e":null,"n":0.04},{"t":941,"e":null,"n":-0.061},{"t":944,"e":null,"n":0.062},{"t":947,"e":null,"n":-0.04},
      {"t":950,"e":null,"n":0.035},{"t":953,"e":null,"n":-0.03},{"t":956,"e":null,"n":0.035},{"t":959,"e":null,"n":-0.04},{"t":962,"e":null,"n":0.03},{"t":965,"e":null,"n":-0.035},{"t":968,"e":null,"n":0.04},{"t":971,"e":null,"n":-0.03},{"t":974,"e":null,"n":0.035},{"t":977,"e":null,"n":-0.04},
      {"t":980,"e":null,"n":0.035},{"t":983,"e":null,"n":-0.03},{"t":986,"e":null,"n":0.045},{"t":989,"e":null,"n":-0.05},{"t":992,"e":null,"n":0.062},{"t":995,"e":null,"n":-0.058},{"t":998,"e":null,"n":0.054},{"t":1001,"e":null,"n":-0.04},{"t":1004,"e":null,"n":0.035},{"t":1007,"e":null,"n":-0.035},
      {"t":1010,"e":null,"n":0.05},{"t":1013,"e":null,"n":-0.035},{"t":1016,"e":null,"n":0.04},{"t":1019,"e":null,"n":-0.045},{"t":1022,"e":null,"n":0.05},{"t":1025,"e":null,"n":-0.062},{"t":1028,"e":null,"n":0.063},{"t":1031,"e":null,"n":-0.046},{"t":1034,"e":null,"n":0.04},{"t":1037,"e":null,"n":-0.035},
      {"t":1040,"e":null,"n":0.035},{"t":1043,"e":null,"n":-0.04},{"t":1046,"e":null,"n":0.035},{"t":1049,"e":null,"n":-0.03},{"t":1052,"e":null,"n":0.04},{"t":1055,"e":null,"n":-0.045},{"t":1058,"e":null,"n":0.05},{"t":1061,"e":null,"n":-0.06},{"t":1064,"e":null,"n":0.064},{"t":1067,"e":null,"n":-0.065},
      {"t":1070,"e":null,"n":0.055},{"t":1073,"e":null,"n":-0.04},{"t":1076,"e":null,"n":0.035},{"t":1079,"e":null,"n":-0.03},{"t":1082,"e":null,"n":0.04},{"t":1085,"e":null,"n":-0.035},{"t":1088,"e":null,"n":0.05},{"t":1091,"e":null,"n":-0.055},{"t":1094,"e":null,"n":0.04},{"t":1097,"e":null,"n":-0.035},
      {"t":1100,"e":null,"n":0.045},{"t":1103,"e":null,"n":-0.042},{"t":1106,"e":null,"n":0.062},{"t":1109,"e":null,"n":-0.05},{"t":1112,"e":null,"n":0.053},{"t":1115,"e":null,"n":-0.045},{"t":1118,"e":null,"n":0.06},{"t":1121,"e":null,"n":-0.07},{"t":1124,"e":null,"n":0.085},{"t":1127,"e":null,"n":-0.105},
      {"t":1130,"e":null,"n":0.092},{"t":1133,"e":null,"n":-0.07},{"t":1136,"e":null,"n":0.088},{"t":1139,"e":null,"n":-0.084},{"t":1142,"e":null,"n":0.07},{"t":1145,"e":0.03,"n":-0.092},{"t":1148,"e":-0.035,"n":0.097},{"t":1151,"e":0.033,"n":-0.06},{"t":1154,"e":-0.03,"n":0.066},{"t":1157,"e":0.036,"n":-0.074},
      {"t":1160,"e":-0.032,"n":0.057},{"t":1163,"e":0.035,"n":-0.035},{"t":1166,"e":-0.036,"n":0.03},{"t":1169,"e":0.033,"n":-0.035},{"t":1172,"e":-0.035,"n":0.03},{"t":1175,"e":0.036,"n":-0.035},{"t":1178,"e":-0.033,"n":0.05},{"t":1181,"e":0.035,"n":-0.05},{"t":1184,"e":-0.036,"n":0.066},{"t":1187,"e":0.034,"n":-0.04},
      {"t":1190,"e":-0.036,"n":0.035},{"t":1193,"e":0.035,"n":-0.055},{"t":1196,"e":-0.038,"n":0.04},{"t":1199,"e":0.04,"n":-0.035},{"t":1202,"e":-0.045,"n":0.035},{"t":1205,"e":0.05,"n":-0.04},{"t":1208,"e":-0.06,"n":0.05},{"t":1211,"e":0.07,"n":-0.06},{"t":1214,"e":-0.08,"n":0.109},{"t":1217,"e":0.085,"n":-0.08},
      {"t":1220,"e":-0.09,"n":0.09},{"t":1223,"e":0.085,"n":-0.092},{"t":1226,"e":-0.08,"n":0.106},{"t":1229,"e":0.09,"n":-0.112},{"t":1232,"e":-0.085,"n":0.09},{"t":1235,"e":0.08,"n":-0.1},{"t":1238,"e":-0.1,"n":0.1},{"t":1241,"e":0.09,"n":-0.1},{"t":1244,"e":-0.085,"n":0.092},{"t":1247,"e":0.08,"n":-0.123},
      {"t":1250,"e":-0.09,"n":0.09},{"t":1253,"e":0.12,"n":-0.1},{"t":1256,"e":-0.1,"n":0.109},{"t":1259,"e":0.09,"n":-0.11},{"t":1262,"e":-0.13,"n":0.132},{"t":1265,"e":0.085,"n":-0.121},{"t":1268,"e":-0.09,"n":0.1},{"t":1271,"e":0.08,"n":-0.121},{"t":1274,"e":-0.085,"n":0.131},{"t":1277,"e":0.09,"n":-0.136},
      {"t":1280,"e":-0.08,"n":0.132},{"t":1283,"e":0.085,"n":-0.145},{"t":1286,"e":-0.09,"n":0.181},{"t":1289,"e":0.08,"n":-0.226},{"t":1292,"e":-0.085,"n":0.232},{"t":1295,"e":0.09,"n":-0.215},{"t":1298,"e":-0.08,"n":0.12},{"t":1301,"e":0.085,"n":-0.13},{"t":1304,"e":-0.09,"n":0.229},{"t":1307,"e":0.08,"n":-0.174},
      {"t":1310,"e":-0.085,"n":0.212},{"t":1313,"e":0.09,"n":-0.276},{"t":1316,"e":-0.08,"n":0.164},{"t":1319,"e":0.085,"n":-0.12},{"t":1322,"e":-0.09,"n":0.13},{"t":1325,"e":0.08,"n":-0.165},{"t":1328,"e":-0.085,"n":0.151},{"t":1331,"e":0.09,"n":-0.13},{"t":1334,"e":-0.08,"n":0.166},{"t":1337,"e":0.085,"n":-0.162},
      {"t":1340,"e":-0.09,"n":0.163},{"t":1343,"e":0.08,"n":-0.142},{"t":1346,"e":-0.085,"n":0.12},{"t":1349,"e":0.09,"n":-0.11},{"t":1352,"e":-0.08,"n":0.135},{"t":1355,"e":0.085,"n":-0.153},{"t":1358,"e":-0.09,"n":0.142},{"t":1361,"e":0.08,"n":-0.1},{"t":1364,"e":-0.085,"n":0.11},{"t":1367,"e":0.09,"n":-0.11},
      {"t":1370,"e":-0.08,"n":0.09},{"t":1373,"e":0.085,"n":-0.119},{"t":1376,"e":-0.09,"n":0.1},{"t":1379,"e":0.08,"n":-0.1},{"t":1382,"e":-0.085,"n":0.13},{"t":1385,"e":0.09,"n":-0.11},{"t":1388,"e":-0.08,"n":0.16},{"t":1391,"e":0.085,"n":-0.171},{"t":1394,"e":-0.09,"n":0.164},{"t":1397,"e":0.08,"n":-0.151},
      {"t":1400,"e":-0.085,"n":0.158},{"t":1403,"e":0.09,"n":-0.15},{"t":1406,"e":-0.08,"n":0.124},{"t":1409,"e":0.085,"n":-0.12},{"t":1412,"e":-0.09,"n":0.124},{"t":1415,"e":0.08,"n":-0.167},{"t":1418,"e":-0.085,"n":0.214},{"t":1421,"e":0.09,"n":-0.242},{"t":1424,"e":-0.08,"n":0.225},{"t":1427,"e":0.085,"n":-0.203},
      {"t":1430,"e":-0.09,"n":0.227},{"t":1433,"e":0.08,"n":-0.244},{"t":1436,"e":-0.085,"n":0.27},{"t":1439,"e":0.09,"n":-0.273},{"t":1442,"e":-0.08,"n":0.272},{"t":1445,"e":0.085,"n":-0.274},{"t":1448,"e":-0.09,"n":0.316},{"t":1451,"e":0.08,"n":-0.328},{"t":1454,"e":-0.085,"n":0.312},{"t":1457,"e":0.09,"n":-0.287},
      {"t":1460,"e":-0.08,"n":0.286},{"t":1463,"e":0.085,"n":-0.28},{"t":1466,"e":-0.09,"n":0.257},{"t":1469,"e":0.08,"n":-0.269},{"t":1472,"e":-0.085,"n":0.188},{"t":1475,"e":0.09,"n":-0.171},{"t":1478,"e":-0.09,"n":0.17},{"t":1481,"e":0.095,"n":-0.155},{"t":1484,"e":-0.1,"n":0.113},{"t":1487,"e":0.1,"n":-0.09},
      {"t":1490,"e":-0.095,"n":0.1},{"t":1493,"e":0.104,"n":-0.085},{"t":1496,"e":-0.096,"n":0.09},{"t":1499,"e":0.1,"n":-0.08}
    ]
  },
  "vconcat": [
    {
      "hconcat": [
        {
          "width": 1440,
          "height": 1086,
          "data": {"name": "ax"},
          "transform": [{"fold": ["e", "n"], "as": ["s", "v"]}],
          "mark": {"type": "line", "strokeWidth": 3.3, "clip": true, "invalid": "break-paths-filter-domains"},
          "encoding": {
            "x": {
              "field": "t", "type": "quantitative",
              "scale": {"domain": [500, 1500], "nice": false, "zero": false},
              "axis": {
                "title": "Time (s)",
                "values": [600, 700, 800, 900, 1000, 1100, 1200, 1300, 1400],
                "format": "d",
                "labelExpr": "datum.value % 200 === 0 ? datum.label : ''",
                "tickSize": {"condition": {"test": "datum.value % 200 === 0", "value": -17}, "value": -8},
                "labelPadding": 39,
                "titlePadding": 27
              }
            },
            "y": {
              "field": "v", "type": "quantitative",
              "scale": {"domain": [-0.35, 0.35], "nice": false, "zero": false},
              "axis": {
                "title": "Nac.Acc.X (m/s^2)",
                "values": [-0.3, -0.25, -0.2, -0.15, -0.1, -0.05, 0, 0.05, 0.1, 0.15, 0.2, 0.25, 0.3],
                "format": ".1f",
                "labelExpr": "round(abs(datum.value) * 20) % 2 === 0 ? datum.label : ''",
                "tickSize": {"condition": {"test": "round(abs(datum.value) * 20) % 2 === 0", "value": -17}, "value": -8},
                "labelPadding": 41,
                "titlePadding": 10
              }
            },
            "color": {
              "field": "s", "type": "nominal",
              "scale": {"domain": ["e", "n"], "range": ["#000000", "#ff0000"]},
              "legend": {"legendX": 40, "legendY": 884, "labelExpr": "datum.value === 'e' ? 'Exp.' : 'Num.'"}
            },
            "strokeDash": {
              "field": "s", "type": "nominal",
              "scale": {"domain": ["e", "n"], "range": [[12, 9], [1, 0]]},
              "legend": {"legendX": 40, "legendY": 884, "labelExpr": "datum.value === 'e' ? 'Exp.' : 'Num.'"}
            }
          },
          "title": {
            "text": "(a) Nacelle acceleration in x direction",
            "orient": "bottom", "anchor": "middle", "frame": "bounds",
            "font": "Liberation Serif", "fontSize": 90, "fontWeight": "normal", "color": "#000000",
            "baseline": "top", "offset": 47
          }
        },
        {
          "width": 1421,
          "height": 1086,
          "data": {"name": "ay"},
          "transform": [{"fold": ["e", "n"], "as": ["s", "v"]}],
          "mark": {"type": "line", "strokeWidth": 3.3, "clip": true, "invalid": "break-paths-filter-domains"},
          "encoding": {
            "x": {
              "field": "t", "type": "quantitative",
              "scale": {"domain": [500, 1500], "nice": false, "zero": false},
              "axis": {
                "title": "Time (s)",
                "values": [600, 700, 800, 900, 1000, 1100, 1200, 1300, 1400],
                "format": "d",
                "labelExpr": "datum.value % 200 === 0 ? datum.label : ''",
                "tickSize": {"condition": {"test": "datum.value % 200 === 0", "value": -17}, "value": -8},
                "labelPadding": 39,
                "titlePadding": 27
              }
            },
            "y": {
              "field": "v", "type": "quantitative",
              "scale": {"domain": [-0.55, 0.55], "nice": false, "zero": false},
              "axis": {
                "title": "Nac.Acc.Y (m/s^2)",
                "values": [-0.5, -0.4, -0.3, -0.2, -0.1, 0, 0.1, 0.2, 0.3, 0.4, 0.5],
                "format": ".1f",
                "labelExpr": "round(abs(datum.value) * 10) % 2 === 0 ? datum.label : ''",
                "tickSize": {"condition": {"test": "round(abs(datum.value) * 10) % 2 === 0", "value": -17}, "value": -8},
                "labelPadding": 41,
                "titlePadding": 10
              }
            },
            "color": {
              "field": "s", "type": "nominal",
              "scale": {"domain": ["e", "n"], "range": ["#000000", "#ff0000"]},
              "legend": {"legendX": 1116, "legendY": 14, "labelExpr": "datum.value === 'e' ? 'Exp.' : 'Num.'"}
            },
            "strokeDash": {
              "field": "s", "type": "nominal",
              "scale": {"domain": ["e", "n"], "range": [[12, 9], [1, 0]]},
              "legend": {"legendX": 1116, "legendY": 14, "labelExpr": "datum.value === 'e' ? 'Exp.' : 'Num.'"}
            }
          },
          "title": {
            "text": "(b) Nacelle acceleration in y direction",
            "orient": "bottom", "anchor": "middle", "frame": "bounds",
            "font": "Liberation Serif", "fontSize": 90, "fontWeight": "normal", "color": "#000000",
            "baseline": "top", "offset": 47
          }
        }
      ],
      "spacing": 334,
      "resolve": {
        "scale": {"x": "independent", "y": "independent", "color": "independent", "strokeDash": "independent"},
        "legend": {"color": "independent", "strokeDash": "independent"}
      }
    },
    {
      "hconcat": [
        {
          "width": 1,
          "height": 10,
          "view": {"stroke": null},
          "data": {"values": [{"k": 0}]},
          "mark": {"type": "text", "text": ""},
          "encoding": {}
        },
        {
          "width": 1440,
          "height": 1086,
          "data": {"name": "az"},
          "transform": [{"fold": ["e", "n"], "as": ["s", "v"]}],
          "mark": {"type": "line", "strokeWidth": 3.3, "clip": true, "invalid": "break-paths-filter-domains"},
          "encoding": {
            "x": {
              "field": "t", "type": "quantitative",
              "scale": {"domain": [500, 1500], "nice": false, "zero": false},
              "axis": {
                "title": "Time (s)",
                "values": [600, 700, 800, 900, 1000, 1100, 1200, 1300, 1400],
                "format": "d",
                "labelExpr": "datum.value % 200 === 0 ? datum.label : ''",
                "tickSize": {"condition": {"test": "datum.value % 200 === 0", "value": -17}, "value": -8},
                "labelPadding": 39,
                "titlePadding": 27
              }
            },
            "y": {
              "field": "v", "type": "quantitative",
              "scale": {"domain": [-0.35, 0.35], "nice": false, "zero": false},
              "axis": {
                "title": "Nac.Acc.Z (m/s^2)",
                "values": [-0.3, -0.25, -0.2, -0.15, -0.1, -0.05, 0, 0.05, 0.1, 0.15, 0.2, 0.25, 0.3],
                "format": ".1f",
                "labelExpr": "round(abs(datum.value) * 20) % 2 === 0 ? datum.label : ''",
                "tickSize": {"condition": {"test": "round(abs(datum.value) * 20) % 2 === 0", "value": -17}, "value": -8},
                "labelPadding": 41,
                "titlePadding": 10
              }
            },
            "color": {
              "field": "s", "type": "nominal",
              "scale": {"domain": ["e", "n"], "range": ["#000000", "#ff0000"]},
              "legend": {"legendX": 56, "legendY": 23, "labelExpr": "datum.value === 'e' ? 'Exp.' : 'Num.'"}
            },
            "strokeDash": {
              "field": "s", "type": "nominal",
              "scale": {"domain": ["e", "n"], "range": [[12, 9], [1, 0]]},
              "legend": {"legendX": 56, "legendY": 23, "labelExpr": "datum.value === 'e' ? 'Exp.' : 'Num.'"}
            }
          },
          "title": {
            "text": "(c) Nacelle acceleration in z direction",
            "orient": "bottom", "anchor": "middle", "frame": "bounds",
            "font": "Liberation Serif", "fontSize": 90, "fontWeight": "normal", "color": "#000000",
            "baseline": "top", "offset": 47
          }
        }
      ],
      "spacing": 776,
      "resolve": {
        "scale": {"color": "independent", "strokeDash": "independent"},
        "legend": {"color": "independent", "strokeDash": "independent"}
      }
    }
  ],
  "spacing": 30,
  "resolve": {
    "scale": {"x": "independent", "y": "independent", "color": "independent", "strokeDash": "independent"},
    "legend": {"color": "independent", "strokeDash": "independent"}
  }
}
